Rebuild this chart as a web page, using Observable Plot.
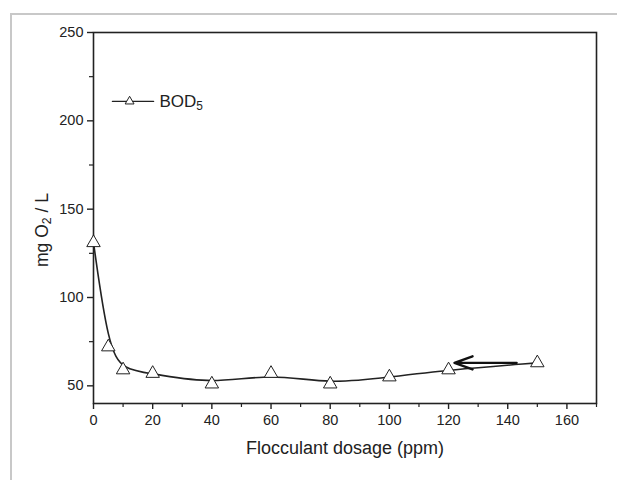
<!DOCTYPE html>
<html>
<head>
<meta charset="utf-8">
<script src="https://cdn.jsdelivr.net/npm/d3@7"></script>
<script src="https://cdn.jsdelivr.net/npm/@observablehq/plot@0.6"></script>
<style>
  body { margin: 0; background: #fff; }
  #wrap { position: relative; width: 617px; height: 480px; overflow: hidden; }
  #border { position: absolute; left: 10px; top: 13px; width: 640px; height: 500px; border: 2px solid #c8c8c8; box-sizing: border-box; }
  #chart { position: absolute; left: 0; top: 0; }
  svg text { font-family: "Liberation Sans", Arial, sans-serif; }
</style>
</head>
<body>
<div id="wrap"><div id="border"></div><div id="chart"></div></div>
<script>
// Data
const dosage = [0, 5, 10, 20, 40, 60, 80, 100, 120, 150];
const bod5 = [131, 72, 59, 57, 51, 57, 51, 55, 59, 63];
const xTicks = [0, 20, 40, 60, 80, 100, 120, 140, 160];
const xMinor = [10, 30, 50, 70, 90, 110, 130, 150, 170];
const yTicks = [50, 100, 150, 200, 250];
const yMinor = [75, 125, 175, 225];
const seriesName = "BOD5";
const xLabel = "Flocculant dosage (ppm)";
const yLabel = "mg O2 / L";
// legend sample position (data units) and arrow (data units)
const legendLine = [{x: 6.4, y: 211}, {x: 20.3, y: 211}];
const legendMarker = [{x: 12.2, y: 211}];
const legendText = [{x: 22.3, y: 211, t: seriesName}];
const arrowData = [{x1: 143, x2: 122, y: 63}];

const data = dosage.map((d, i) => ({x: d, y: bod5[i]}));
const ink = "#222222";

const plot = Plot.plot({
  width: 617,
  height: 480,
  marginLeft: 93,
  marginRight: 21,
  marginTop: 32,
  marginBottom: 77,
  style: {fontFamily: "Liberation Sans, Arial, sans-serif", fontSize: "14px", color: ink, background: "transparent"},
  x: {domain: [0, 170]},
  y: {domain: [40, 250]},
  marks: [
    Plot.frame({stroke: ink, strokeWidth: 1.6}),
    Plot.axisX({ticks: xTicks, tickSize: 6, tickPadding: 5, label: null, fontSize: 14.5, fill: ink, stroke: ink, strokeWidth: 1.4}),
    Plot.axisX({ticks: xMinor, tickSize: 4, text: null, label: null, stroke: ink, strokeWidth: 1.2}),
    Plot.axisY({ticks: yTicks, tickSize: 6, tickPadding: 4, label: null, fontSize: 14.5, fill: ink, stroke: ink, strokeWidth: 1.4}),
    Plot.axisY({ticks: yMinor, tickSize: 4, text: null, label: null, stroke: ink, strokeWidth: 1.2}),
    Plot.text([xLabel], {frameAnchor: "bottom", textAnchor: "middle", dy: 50, fontSize: 18, fill: ink}),
    Plot.text([yLabel], {frameAnchor: "left", textAnchor: "middle", dx: -51, dy: 12, rotate: -90, fontSize: 17.5, fill: ink}),
    Plot.line(data, {x: "x", y: "y", curve: "basis", stroke: ink, strokeWidth: 1.6}),
    Plot.arrow(arrowData, {x1: "x1", x2: "x2", y1: "y", y2: "y", stroke: "#111", strokeWidth: 2.4, headLength: 12, headAngle: 40}),
    Plot.dot(data, {x: "x", y: "y", symbol: "triangle", r: 5, fill: "white", stroke: ink, strokeWidth: 1}),
    Plot.line(legendLine, {x: "x", y: "y", stroke: ink, strokeWidth: 1.4}),
    Plot.dot(legendMarker, {x: "x", y: "y", symbol: "triangle", r: 3.3, fill: "white", stroke: ink, strokeWidth: 1}),
    Plot.text(legendText, {x: "x", y: "y", text: "t", textAnchor: "start", fontSize: 17, fill: ink})
  ]
});

// subscripts
function subscriptify(svg, full, base, sub, tail) {
  d3.select(svg).selectAll("text").filter(function() { return this.textContent === full; }).each(function() {
    const t = d3.select(this);
    t.text(null);
    t.append("tspan").text(base);
    t.append("tspan").attr("baseline-shift", "-22%").attr("font-size", "0.7em").text(sub);
    if (tail) t.append("tspan").text(tail);
  });
}
subscriptify(plot, seriesName, "BOD", "5", "");
subscriptify(plot, yLabel, "mg O", "2", " / L");
document.getElementById("chart").appendChild(plot);
</script>
</body>
</html>
